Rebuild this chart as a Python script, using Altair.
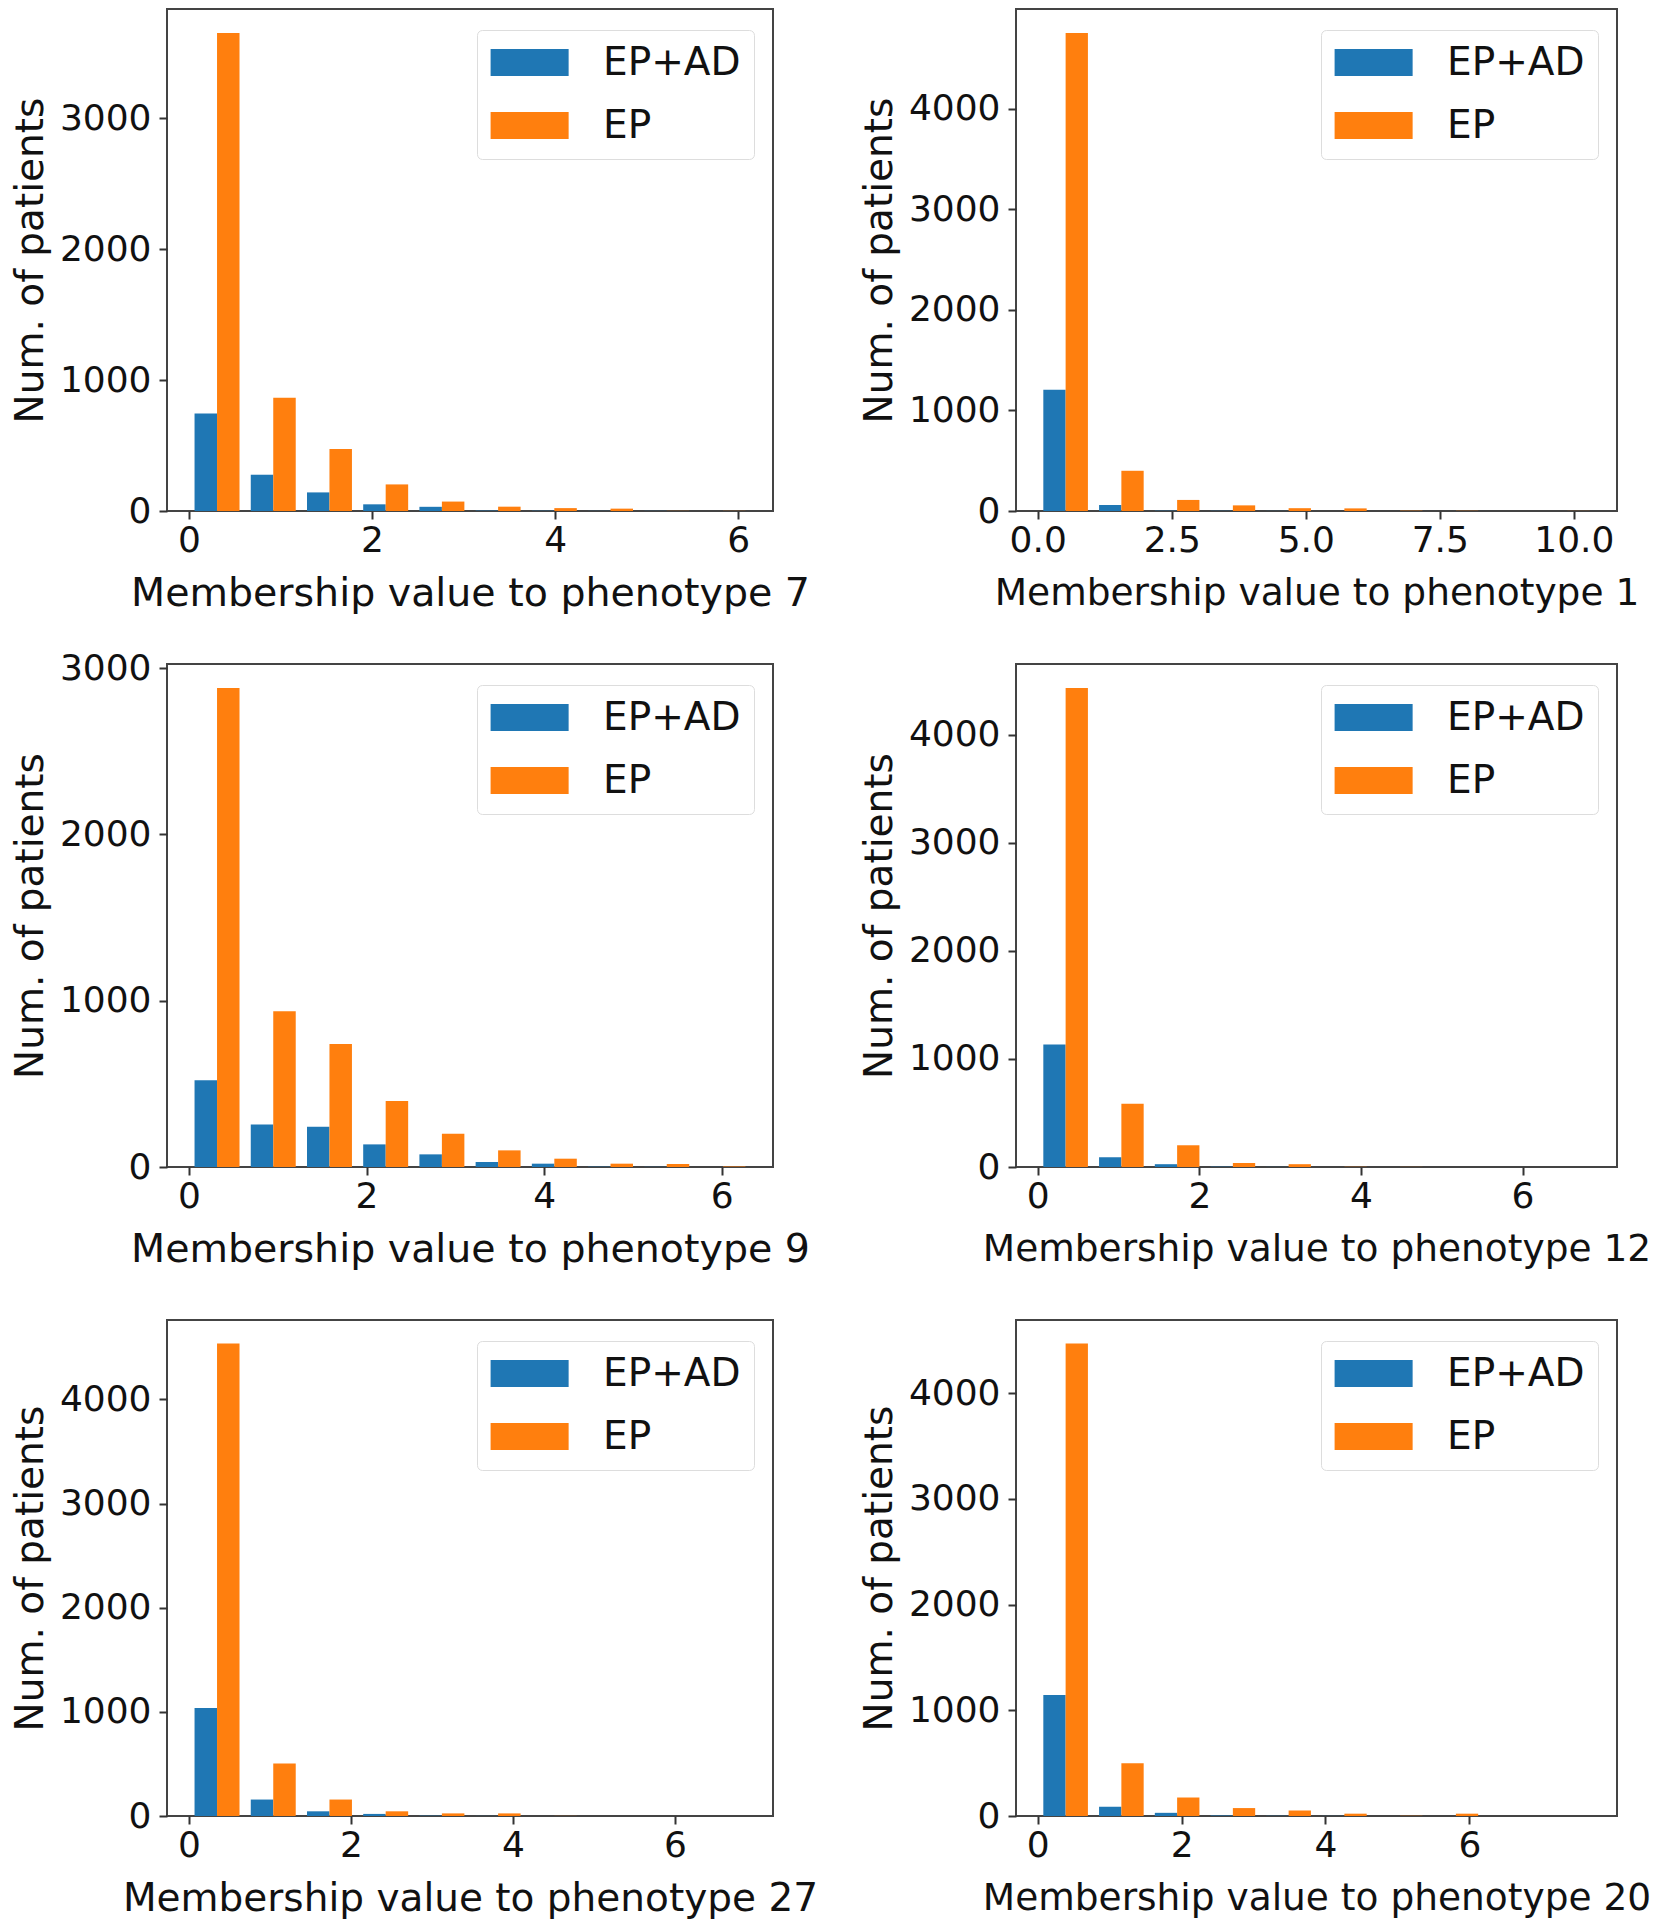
import altair as alt
import pandas as pd

# ---------------- data ----------------
series = ["EP+AD", "EP"]
colors = ["#1f77b4", "#ff7f0e"]
phenotypes = [7, 1, 9, 12, 27, 20]
# histogram bin width (membership units), 10 bins starting at 0
bin_width = [0.614, 1.04, 0.633, 0.69, 0.694, 0.775]

ep_ad_counts = [
    [744, 277, 142, 51, 32, 3, 2, 1, 1, 0],      # phenotype 7
    [1205, 60, 3, 2, 1, 0, 0, 0, 0, 0],          # phenotype 1
    [522, 256, 242, 136, 76, 30, 20, 2, 1, 0],   # phenotype 9
    [1132, 91, 26, 3, 1, 0, 0, 0, 0, 0],         # phenotype 12
    [1036, 158, 45, 20, 3, 1, 0, 0, 0, 0],       # phenotype 27
    [1145, 88, 30, 5, 2, 1, 0, 0, 0, 0],         # phenotype 20
]
ep_counts = [
    [3651, 864, 473, 203, 72, 33, 22, 18, 1, 1],
    [4755, 400, 110, 56, 28, 26, 3, 2, 1, 1],
    [2881, 937, 740, 397, 200, 100, 50, 20, 18, 3],
    [4431, 584, 201, 37, 26, 2, 1, 0, 0, 0],
    [4535, 505, 158, 45, 25, 25, 1, 0, 0, 0],
    [4470, 500, 175, 75, 52, 22, 2, 22, 0, 0],
]

x_ticks = [[0, 2, 4, 6], [0, 2.5, 5, 7.5, 10], [0, 2, 4, 6],
           [0, 2, 4, 6], [0, 2, 4, 6], [0, 2, 4, 6]]
x_formats = ["d", ".1f", "d", "d", "d", "d"]
y_ticks = [[0, 1000, 2000, 3000], [0, 1000, 2000, 3000, 4000],
           [0, 1000, 2000, 3000], [0, 1000, 2000, 3000, 4000],
           [0, 1000, 2000, 3000, 4000], [0, 1000, 2000, 3000, 4000]]

FONT = "DejaVu Sans"
PANEL_W = [606, 601, 606, 601, 606, 601]
PANEL_H = [502, 502, 503, 503, 496, 496]
XTITLE_SIZE = [39.5, 37.5, 39.5, 37.5, 39, 37.5]


def make_panel(k):
    w = bin_width[k]
    n = len(ep_counts[k])
    df = pd.DataFrame({
        "bin": list(range(n)) * 2,
        "series": [series[0]] * n + [series[1]] * n,
        "count": ep_ad_counts[k] + ep_counts[k],
    })
    span = n - 0.2
    lo = (0.1 - 0.05 * span) * w
    hi = (n - 0.1 + 0.05 * span) * w
    ymax = 1.05 * max(max(ep_counts[k]), max(ep_ad_counts[k]))
    return (
        alt.Chart(df)
        .transform_calculate(
            x0=f"(datum.bin + (datum.series == '{series[1]}' ? 0.5 : 0.1)) * {w}",
            x1=f"(datum.bin + (datum.series == '{series[1]}' ? 0.9 : 0.5)) * {w}",
        )
        .mark_bar(strokeWidth=0, opacity=1)
        .encode(
            x=alt.X("x0:Q",
                    scale=alt.Scale(domain=[lo, hi], nice=False, zero=False),
                    axis=alt.Axis(values=x_ticks[k], format=x_formats[k],
                                  titleFontSize=XTITLE_SIZE[k],
                                  title=f"Membership value to phenotype {phenotypes[k]}")),
            x2="x1:Q",
            y=alt.Y("count:Q",
                    scale=alt.Scale(domain=[0, ymax], nice=False),
                    axis=alt.Axis(values=y_ticks[k], format="d",
                                  title="Num. of patients")),
            y2=alt.datum(0),
            color=alt.Color(
                "series:N",
                scale=alt.Scale(domain=series, range=colors),
                legend=alt.Legend(
                    title=None, orient="none",
                    legendX=PANEL_W[k] - 296, legendY=21,
                    fillColor="white", strokeColor="#dddddd", cornerRadius=5,
                    padding=13,
                    symbolType="M-1.4,-1L4.38,-1L4.38,1L-1.4,1Z",
                    symbolSize=729, symbolStrokeWidth=0, symbolOpacity=1,
                    labelFontSize=39, labelFont=FONT, labelColor="#111111",
                    labelOffset=74, rowPadding=23,
                ),
            ),
        )
        .properties(width=PANEL_W[k], height=PANEL_H[k])
    )


charts = [make_panel(k) for k in range(len(phenotypes))]

chart = (
    alt.concat(*charts, columns=2, spacing={"row": 153, "column": 243}, bounds="flush")
    .resolve_scale(x="independent", y="independent", color="independent")
    .resolve_legend(color="independent")
    .properties(padding={"left": 2, "top": 0, "right": 0, "bottom": 0})
    .configure(font=FONT)
    .configure_view(stroke="#444444", strokeWidth=2)
    .configure_axis(
        grid=False, domain=False,
        tickSize=8, tickWidth=2, tickColor="#333333",
        labelFontSize=36, labelFont=FONT, labelColor="#111111",
        titleFont=FONT, titleColor="#111111", titleFontWeight="normal",
    )
    .configure_axisX(labelPadding=4, titlePadding=16)
    .configure_axisY(labelPadding=8, titlePadding=9, titleFontSize=39)
)

chart.save("out.html", embed_options={"renderer": "svg", "actions": False})
